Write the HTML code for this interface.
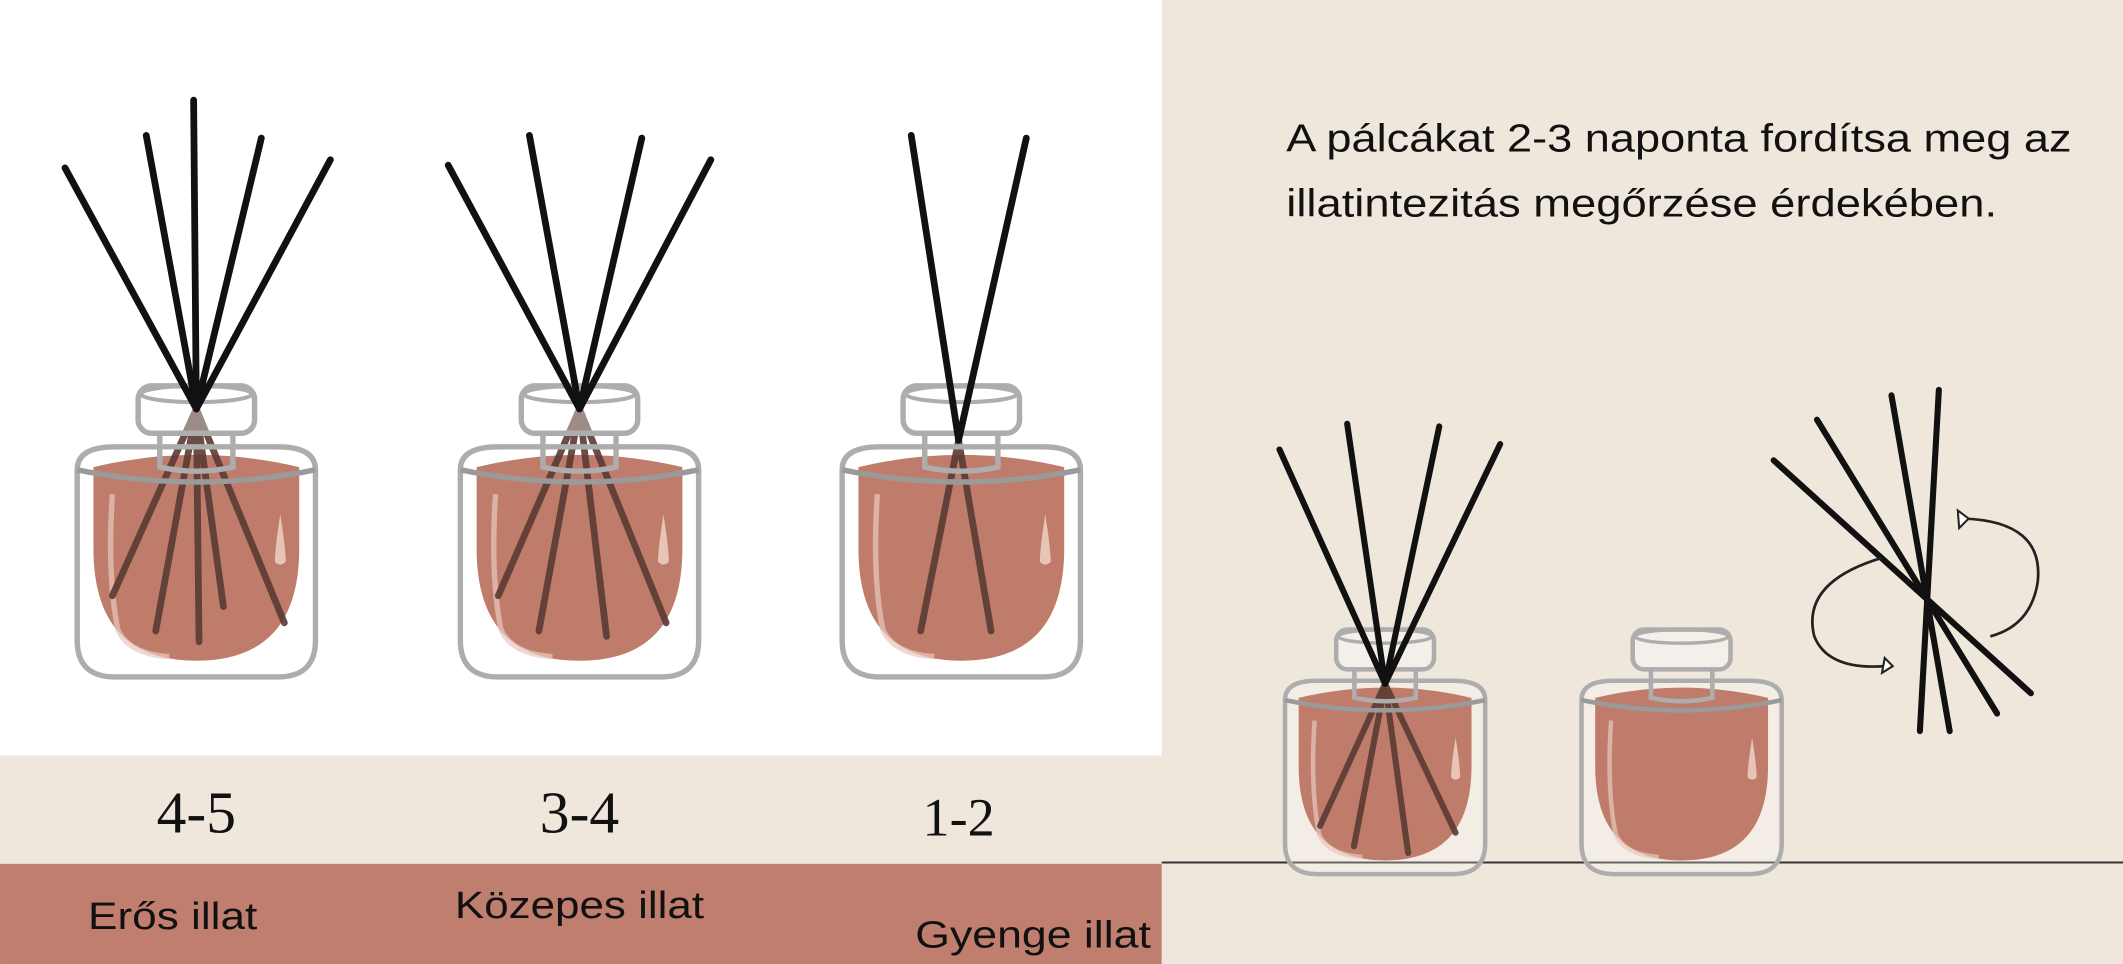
<!DOCTYPE html>
<html><head><meta charset="utf-8"><style>
html,body{margin:0;padding:0;background:#fff}
svg{display:block}
</style></head><body>
<svg width="2123" height="964" viewBox="0 0 1568 712" xmlns="http://www.w3.org/2000/svg">
<defs>
<g id="bottle">
  <path d="M -88 62 Q -88 45 -60 45 L 60 45 Q 88 45 88 62 L 88 188 Q 88 215 60 215 L -60 215 Q -88 215 -88 188 Z" fill="#fff" fill-opacity="0.25"/>
  <path d="M -76 60 Q 0 42 76 60 L 76 120 Q 76 203 0 203 Q -76 203 -76 120 Z" fill="#c07c6a"/>
  <path d="M -62 80 Q -66 140 -58 180 Q -50 198 -20 200" fill="none" stroke="#e8c8c0" stroke-width="4" opacity="0.7"/>
  <path d="M 62 95 Q 58 120 58 130 Q 62 134 66 130 Q 66 120 62 95 Z" fill="#f0d4cc" opacity="0.8"/>
</g>
<g id="glass">
  <rect x="-43" y="0" width="86" height="35" rx="10" fill="#fff" fill-opacity="0.35" stroke="#adadad" stroke-width="4"/>
  <ellipse cx="0" cy="6" rx="41" ry="6" fill="none" stroke="#adadad" stroke-width="3"/>
  <path d="M -27 35 L -27 60 Q 0 66 27 60 L 27 35" fill="none" stroke="#adadad" stroke-width="4"/>
  <path d="M -88 62 Q -88 45 -60 45 L 60 45 Q 88 45 88 62 L 88 188 Q 88 215 60 215 L -60 215 Q -88 215 -88 188 Z" fill="none" stroke="#adadad" stroke-width="4"/>
  <path d="M -88 62 Q 0 80 88 62" fill="none" stroke="#9a9a9a" stroke-width="4"/>
</g>
</defs>
<rect width="1568" height="712" fill="#fff"/>
<rect x="858" y="0" width="710" height="712" fill="#efe7dc"/>
<rect x="0" y="558" width="858" height="80" fill="#efe7dc"/>
<rect x="0" y="638" width="858" height="74" fill="#c07e6e"/>
<line x1="858" y1="637" x2="1568" y2="637" stroke="#333" stroke-width="1.5"/>

<use href="#bottle" transform="translate(145,285)"/>
<g stroke="#5a3a33" stroke-width="5" stroke-linecap="round" opacity="0.9">
<line x1="145" y1="302" x2="83" y2="440"/><line x1="145" y1="302" x2="115" y2="466"/><line x1="145" y1="302" x2="147" y2="474"/><line x1="145" y1="302" x2="165" y2="448"/><line x1="145" y1="302" x2="210" y2="460"/>
</g>
<use href="#glass" transform="translate(145,285)"/>
<g stroke="#111" stroke-width="5" stroke-linecap="round">
<line x1="48" y1="124" x2="145" y2="302"/><line x1="108" y1="100" x2="145" y2="302"/><line x1="143" y1="74" x2="145" y2="302"/><line x1="193" y1="102" x2="145" y2="302"/><line x1="244" y1="118" x2="145" y2="302"/>
</g>

<use href="#bottle" transform="translate(428,285)"/>
<g stroke="#5a3a33" stroke-width="5" stroke-linecap="round" opacity="0.9">
<line x1="428" y1="302" x2="368" y2="440"/><line x1="428" y1="302" x2="398" y2="466"/><line x1="428" y1="302" x2="448" y2="470"/><line x1="428" y1="302" x2="492" y2="460"/>
</g>
<use href="#glass" transform="translate(428,285)"/>
<g stroke="#111" stroke-width="5" stroke-linecap="round">
<line x1="331" y1="122" x2="428" y2="302"/><line x1="391" y1="100" x2="428" y2="302"/><line x1="474" y1="102" x2="428" y2="302"/><line x1="525" y1="118" x2="428" y2="302"/>
</g>

<use href="#bottle" transform="translate(710,285)"/>
<g stroke="#5a3a33" stroke-width="5" stroke-linecap="round" opacity="0.9">
<line x1="708" y1="325" x2="680" y2="466"/><line x1="708" y1="325" x2="732" y2="466"/>
</g>
<use href="#glass" transform="translate(710,285)"/>
<g stroke="#111" stroke-width="5" stroke-linecap="round">
<line x1="673" y1="100" x2="708" y2="325"/><line x1="758" y1="102" x2="708" y2="325"/>
</g>

<g transform="translate(1023,465) scale(0.84)"><use href="#bottle"/></g>
<g stroke="#5a3a33" stroke-width="4.5" stroke-linecap="round" opacity="0.9">
<line x1="1023" y1="505" x2="975" y2="610"/><line x1="1023" y1="505" x2="1000" y2="625"/><line x1="1023" y1="505" x2="1040" y2="630"/><line x1="1023" y1="505" x2="1075" y2="615"/>
</g>
<g transform="translate(1023,465) scale(0.84)"><use href="#glass"/></g>
<g stroke="#111" stroke-width="4.5" stroke-linecap="round">
<line x1="945" y1="332" x2="1023" y2="505"/><line x1="995" y1="313" x2="1023" y2="505"/><line x1="1063" y1="315" x2="1023" y2="505"/><line x1="1108" y1="328" x2="1023" y2="505"/>
</g>

<g transform="translate(1242,465) scale(0.84)"><use href="#bottle"/><use href="#glass"/></g>

<g stroke="#111" stroke-width="4.5" stroke-linecap="round">
<line x1="1310" y1="340" x2="1500" y2="512"/><line x1="1342" y1="310" x2="1475" y2="527"/><line x1="1397" y1="292" x2="1440" y2="540"/><line x1="1432" y1="288" x2="1418" y2="540"/>
</g>
<g fill="none" stroke="#222" stroke-width="2">
<path d="M 1390 412 Q 1330 430 1340 470 Q 1350 495 1392 492"/>
<path d="M 1450 383 Q 1510 385 1505 430 Q 1500 462 1470 470"/>
</g>
<path d="M 1392 486 L 1398 492 L 1390 497 Z" fill="#fff" stroke="#222" stroke-width="1.5"/>
<path d="M 1446 377 L 1454 383 L 1447 390 Z" fill="#fff" stroke="#222" stroke-width="1.5"/>

<g style="font-family:'Liberation Serif',serif" font-size="44" fill="#111" text-anchor="middle">
<text x="145" y="615">4-5</text><text x="428" y="615">3-4</text><text x="708" y="617" font-size="40">1-2</text>
</g>
<g style="font-family:'Liberation Sans',sans-serif" font-size="28" fill="#111">
<text x="65" y="686" textLength="125" lengthAdjust="spacingAndGlyphs">Erős illat</text>
<text x="336" y="678" textLength="184" lengthAdjust="spacingAndGlyphs">Közepes illat</text>
<text x="676" y="700" textLength="174" lengthAdjust="spacingAndGlyphs">Gyenge illat</text>
<text x="950" y="112" font-size="29" textLength="580" lengthAdjust="spacingAndGlyphs">A pálcákat 2-3 naponta fordítsa meg az</text>
<text x="950" y="160" font-size="29" textLength="525" lengthAdjust="spacingAndGlyphs">illatintezitás megőrzése érdekében.</text>
</g>
</svg>
</body></html>
